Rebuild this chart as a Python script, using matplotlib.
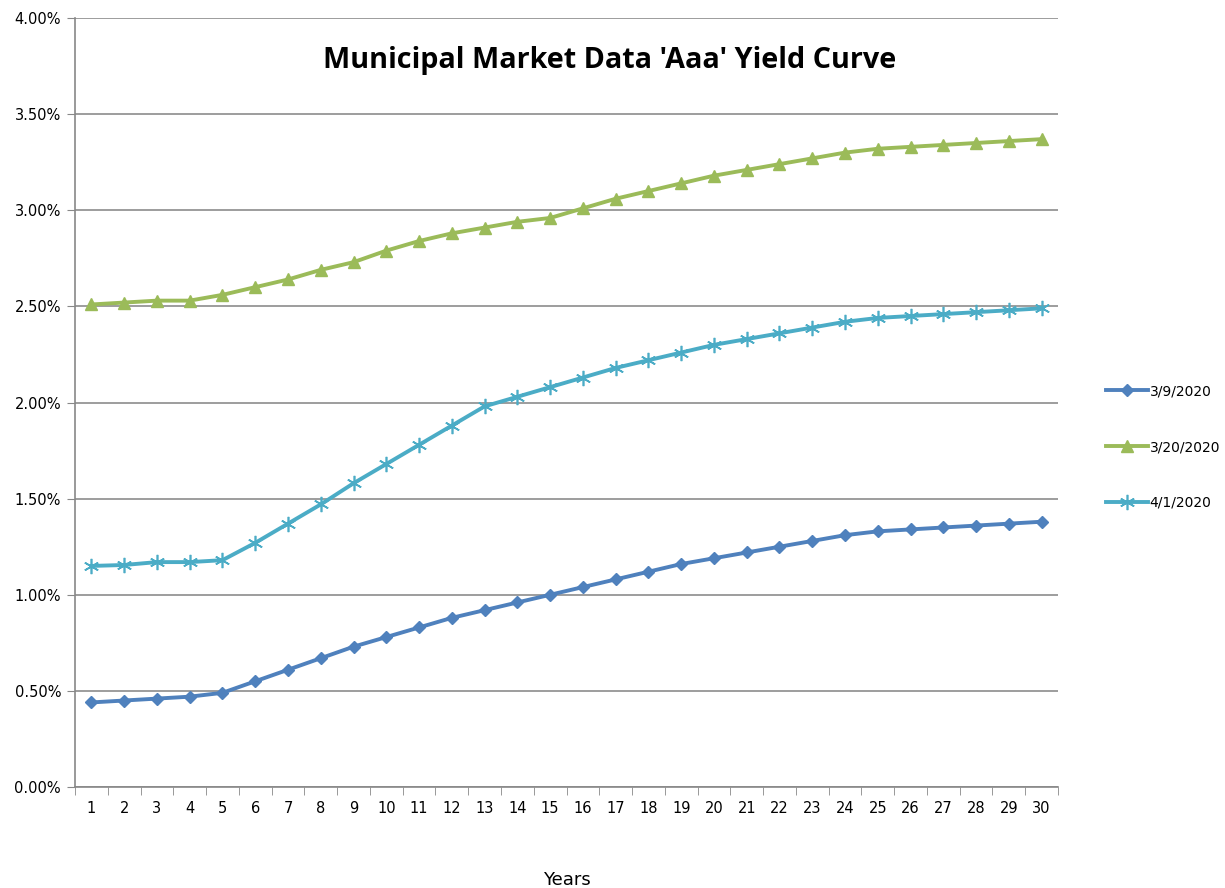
import matplotlib.pyplot as plt
import numpy as np

years = list(range(1, 31))

# yields in percent
mar09 = [0.44, 0.45, 0.46, 0.47, 0.49, 0.55, 0.61, 0.67, 0.73, 0.78,
         0.83, 0.88, 0.92, 0.96, 1.00, 1.04, 1.08, 1.12, 1.16, 1.19,
         1.22, 1.25, 1.28, 1.31, 1.33, 1.34, 1.35, 1.36, 1.37, 1.38]
mar20 = [2.51, 2.52, 2.53, 2.53, 2.56, 2.60, 2.64, 2.69, 2.73, 2.79,
         2.84, 2.88, 2.91, 2.94, 2.96, 3.01, 3.06, 3.10, 3.14, 3.18,
         3.21, 3.24, 3.27, 3.30, 3.32, 3.33, 3.34, 3.35, 3.36, 3.37]
apr01 = [1.15, 1.155, 1.17, 1.17, 1.18, 1.27, 1.37, 1.47, 1.58, 1.68,
         1.78, 1.88, 1.98, 2.03, 2.08, 2.13, 2.18, 2.22, 2.26, 2.30,
         2.33, 2.36, 2.39, 2.42, 2.44, 2.45, 2.46, 2.47, 2.48, 2.49]

labels = ["3/9/2020", "3/20/2020", "4/1/2020"]
yticks = np.arange(0, 4.01, 0.5)

fig = plt.figure(figsize=(12.25, 8.88), dpi=100)
ax = fig.add_axes([0.0612, 0.1137, 0.8025, 0.866])

ax.plot(years, mar09, color="#4F81BD", lw=2.8, marker="D", ms=6.5, label=labels[0])
ax.plot(years, mar20, color="#9BBB59", lw=2.8, marker="^", ms=8.5, label=labels[1])
ax.plot(years, apr01, color="#4BACC6", lw=2.8, marker=(6, 2, 0), ms=11, mew=1.2,
        label=labels[2])

ax.set_xlim(0.5, 30.5)
ax.set_ylim(0, 4)
ax.set_yticks(yticks)
ax.set_yticklabels(["%.2f%%" % v for v in yticks], fontsize=10.5)
ax.set_xticks(years)
ax.set_xticklabels([str(y) for y in years], fontsize=10.5)
ax.set_xticks(np.arange(0.5, 31, 1), minor=True)
ax.tick_params(axis="x", which="major", length=0, pad=10)
ax.tick_params(axis="x", which="minor", length=6, color="#888888")
ax.tick_params(axis="y", length=6, color="#888888", pad=4)

ax.grid(axis="y", color="#8c8c8c", lw=1.2)
ax.set_axisbelow(True)
for s in ["top", "right"]:
    ax.spines[s].set_visible(False)
for s in ["left", "bottom"]:
    ax.spines[s].set_color("#888888")
    ax.spines[s].set_linewidth(1.2)

ax.set_xlabel("Years", fontsize=13, labelpad=40)
fig.text(0.498, 0.932, "Municipal Market Data 'Aaa' Yield Curve",
         ha="center", va="center", fontsize=20.7, fontweight="bold", family="Open Sans")

fig.legend(loc="center left", bbox_to_anchor=(0.893, 0.4966), frameon=False,
           fontsize=10, labelspacing=3.0, handlelength=3.0, handletextpad=0.1)

fig.savefig("out.png", dpi=100)
